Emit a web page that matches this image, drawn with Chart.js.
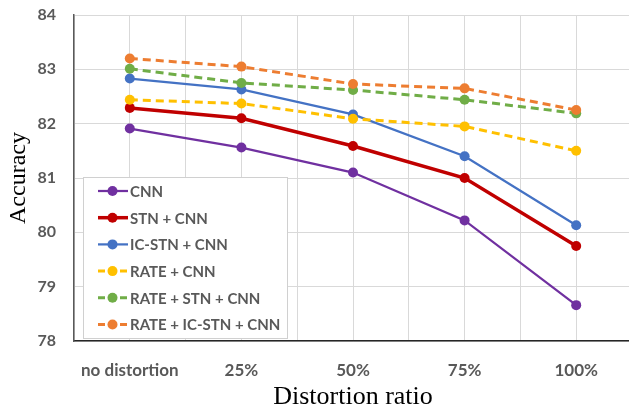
<!DOCTYPE html>
<html>
<head>
<meta charset="utf-8">
<script src="https://cdn.jsdelivr.net/npm/chart.js@4.4.0/dist/chart.umd.min.js"></script>
<style>
  html, body { margin: 0; padding: 0; background: #fff; overflow: hidden; }
  #wrap { width: 632px; height: 413px; }
</style>
</head>
<body>
<div id="wrap"><canvas id="accChart"></canvas></div>
<script>
// data
const ratios = ['no distortion', '25%', '50%', '75%', '100%'];
const seriesNames = ['CNN', 'STN + CNN', 'IC-STN + CNN', 'RATE + CNN', 'RATE + STN + CNN', 'RATE + IC-STN + CNN'];
const cnn = [81.91, 81.56, 81.10, 80.22, 78.66];
const stnCnn = [82.29, 82.10, 81.59, 81.00, 79.75];
const icStnCnn = [82.83, 82.63, 82.17, 81.40, 80.13];
const rateCnn = [82.44, 82.37, 82.09, 81.95, 81.50];
const rateStnCnn = [83.01, 82.75, 82.62, 82.44, 82.19];
const rateIcStnCnn = [83.20, 83.05, 82.73, 82.65, 82.25];
const yTicks = [78, 79, 80, 81, 82, 83, 84];

const colors = ['#7030A0', '#C00000', '#4472C4', '#FFC000', '#70AD47', '#ED7D31'];
const widths = [2.25, 3.5, 2.25, 3, 3, 3];
const dashed = [false, false, false, true, true, true];
const allValues = [cnn, stnCnn, icStnCnn, rateCnn, rateStnCnn, rateIcStnCnn];

const datasets = allValues.map((vals, i) => ({
    label: seriesNames[i],
    data: vals,
    borderColor: colors[i],
    backgroundColor: colors[i],
    borderWidth: widths[i],
    borderDash: dashed[i] ? [8, 5] : [],
    pointRadius: 5,
    pointBorderWidth: 0,
    pointBackgroundColor: colors[i],
    tension: 0,
    order: allValues.length - i
}));

// legend box drawn inside the plot, like the original
const boxLegend = {
    id: 'boxLegend',
    afterDatasetsDraw(chart) {
        const c = chart.ctx;
        const x0 = 83, y0 = 177, w = 204, h = 161;
        c.save();
        c.fillStyle = '#fff';
        c.fillRect(x0, y0, w, h);
        c.strokeStyle = '#d0d0d0';
        c.lineWidth = 1;
        c.strokeRect(x0 + 0.5, y0 + 0.5, w, h);
        c.font = 'bold 15px Lato';
        c.textBaseline = 'middle';
        chart.data.datasets.forEach((ds, i) => {
            const y = 191 + i * 26.7;
            c.strokeStyle = ds.borderColor;
            c.lineWidth = ds.borderWidth;
            c.setLineDash(ds.borderDash.length ? [7, 4] : []);
            c.beginPath();
            c.moveTo(98, y);
            c.lineTo(128, y);
            c.stroke();
            c.setLineDash([]);
            c.fillStyle = ds.borderColor;
            c.beginPath();
            c.arc(112.5, y, 5, 0, Math.PI * 2);
            c.fill();
            c.fillStyle = '#595959';
            c.fillText(ds.label, 130, y + 1);
        });
        c.restore();
    }
};

const ctx = document.getElementById('accChart').getContext('2d');
const accChart = new Chart(ctx, {
    type: 'line',
    data: { labels: ratios, datasets: datasets },
    plugins: [boxLegend],
    options: {
        responsive: true,
        maintainAspectRatio: false,
        animation: false,
        layout: { autoPadding: false, padding: { top: 15, left: 0, right: 0, bottom: 0 } },
        plugins: { legend: { display: false }, tooltip: { enabled: false } },
        scales: {
            x: {
                type: 'category',
                offset: true,
                grid: { offset: false, color: '#d9d9d9', lineWidth: 1, drawTicks: false },
                border: { display: true, color: '#262626', width: 1.5 },
                ticks: { color: '#595959', font: { family: 'Lato', weight: 'bold', size: 17 }, padding: 19, maxRotation: 0 },
                title: { display: true, text: 'Distortion ratio', color: '#000', font: { family: 'Liberation Serif', size: 26 }, padding: { top: 0, bottom: 0 } },
                afterFit(scale) {
                    scale.height = 72;
                    scale.paddingLeft = 0;
                    scale.paddingRight = 0;
                }
            },
            x2: {
                type: 'category',
                position: 'bottom',
                offset: true,
                grid: { offset: true, color: '#d9d9d9', lineWidth: 1, drawTicks: false },
                border: { display: false },
                ticks: { display: false },
                afterFit(scale) {
                    scale.height = 0;
                    scale.paddingLeft = 0;
                    scale.paddingRight = 0;
                }
            },
            y: {
                min: 78,
                max: 84,
                afterBuildTicks(scale) { scale.ticks = yTicks.map(v => ({ value: v })); },
                grid: { color: '#d9d9d9', lineWidth: 1, drawTicks: false },
                border: { display: true, color: '#595959', width: 1.5 },
                ticks: { color: '#595959', font: { family: 'Lato', weight: 'bold', size: 16 }, padding: 18 },
                title: { display: true, text: 'Accuracy', color: '#000', font: { family: 'Liberation Serif', size: 24 }, padding: { top: 4, bottom: 0 } },
                afterFit(scale) {
                    scale.width = 74;
                    scale.paddingTop = 0;
                    scale.paddingBottom = 0;
                }
            }
        }
    }
});
</script>
</body>
</html>
